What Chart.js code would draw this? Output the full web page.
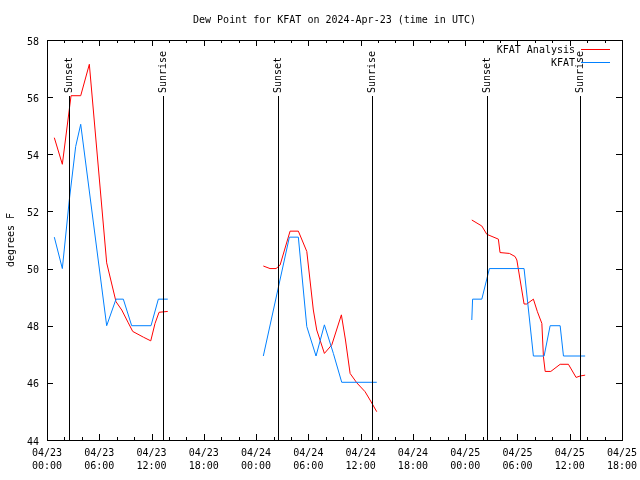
<!DOCTYPE html>
<html>
<head>
<meta charset="utf-8">
<script src="https://cdn.jsdelivr.net/npm/chart.js@4.4.1/dist/chart.umd.min.js"></script>
<style>
  body { margin: 0; background: #fff; }
  canvas { display: block; }
</style>
</head>
<body>
<canvas id="myChart" width="640" height="480"></canvas>
<script>
// hours since 04/23 00:00 UTC, null = gap between days
var analysisHours = [0.84, 1.76, 2.76, 3.87, 4.86, 6.85, 7.92, 8.58, 9.33, 9.84, 11.06, 11.91, 12.4, 12.86, 13.86, null,
    24.83, 25.6, 26.29, 26.75, 27.9, 28.85, 29.82, 30.57, 30.96, 31.84, 32.69, 33.79, 34.26, 34.79, 35.56, 36.51, 37.08, 37.85, null,
    48.76, 49.91, 50.48, 51.81, 52.0, 53.08, 53.73, 53.93, 54.76, 55.07, 55.83, 56.29, 56.8, 56.98, 57.18, 57.83, 58.9, 59.85, 60.73, 61.19, 61.77];
var analysisDew = [54.58, 53.65, 56.05, 56.05, 57.15, 50.2, 48.84, 48.55, 48.1, 47.8, 47.6, 47.47, 48.08, 48.47, 48.5, null,
    50.09, 50.0, 50.0, 50.12, 51.31, 51.31, 50.6, 48.55, 47.85, 47.03, 47.33, 48.38, 47.5, 46.33, 46.0, 45.69, 45.4, 44.99, null,
    51.7, 51.49, 51.2, 51.03, 50.56, 50.53, 50.42, 50.3, 48.76, 48.76, 48.93, 48.49, 48.08, 46.92, 46.4, 46.4, 46.65, 46.65, 46.19, 46.24, 46.27];

var obsHours = [0.84, 1.76, 2.56, 3.29, 3.87, 6.85, 7.92, 8.76, 9.72, 11.94, 12.78, 13.86, null,
    24.83, 27.82, 28.85, 29.82, 30.88, 31.84, 32.87, 33.83, 37.85, null,
    48.76, 48.85, 49.91, 50.78, 54.76, 55.83, 57.06, 57.75, 58.9, 59.28, 61.77];
var obsDew = [51.1, 50.0, 52.4, 54.27, 55.05, 48.0, 48.93, 48.93, 48.0, 48.0, 48.93, 48.93, null,
    46.94, 51.1, 51.1, 47.97, 46.94, 48.03, 47.03, 46.02, 46.02, null,
    48.2, 48.93, 48.93, 50.0, 50.0, 46.94, 46.94, 48.0, 48.0, 46.94, 46.94];

var sunsetHours = [2.56, 26.56, 50.55];
var sunriseHours = [13.28, 37.28, 61.23];

var tickDays = ["04/23", "04/23", "04/23", "04/23", "04/24", "04/24", "04/24", "04/24", "04/25", "04/25", "04/25", "04/25"];
var tickTimes = ["00:00", "06:00", "12:00", "18:00", "00:00", "06:00", "12:00", "18:00", "00:00", "06:00", "12:00", "18:00"];

var chartTitle = "Dew Point for KFAT on 2024-Apr-23 (time in UTC)";
var FONT = '"DejaVu Sans Mono", monospace';

function toPoints(xs, ys) {
    return xs.map(function (h, i) { return {x: h === null ? NaN : h, y: ys[i]}; });
}

var decor = {
    id: "decor",
    afterDraw: function (chart) {
        var ctx = chart.ctx, a = chart.chartArea, xs = chart.scales.x, ys = chart.scales.y;
        ctx.save();
        ctx.strokeStyle = "#000";
        ctx.lineWidth = 1;
        function seg(x1, y1, x2, y2) {
            ctx.beginPath(); ctx.moveTo(x1, y1); ctx.lineTo(x2, y2); ctx.stroke();
        }
        ctx.strokeRect(a.left + 0.5, a.top + 0.5, a.right - a.left, a.bottom - a.top);

        // inward ticks, minor every 2 h
        for (var h = xs.min; h <= xs.max; h += 2) {
            var px = Math.round(xs.getPixelForValue(h)) + 0.5;
            var len = h % 6 === 0 ? 6 : 3;
            seg(px, a.bottom, px, a.bottom - len);
            seg(px, a.top, px, a.top + len);
        }
        for (var v = ys.min; v <= ys.max; v += 2) {
            var py = Math.round(ys.getPixelForValue(v)) + 0.5;
            seg(a.left, py, a.left + 6, py);
            seg(a.right, py, a.right - 6, py);
        }

        // sunset / sunrise markers
        ctx.font = "10px " + FONT;
        ctx.fillStyle = "#000";
        function marker(h, txt) {
            var px = Math.round(xs.getPixelForValue(h)) + 0.5;
            seg(px, a.bottom, px, a.top + 56);
            ctx.save();
            ctx.translate(px, a.top + 53);
            ctx.rotate(-Math.PI / 2);
            ctx.textAlign = "left";
            ctx.textBaseline = "middle";
            ctx.fillText(txt, 0, 0);
            ctx.restore();
        }
        sunsetHours.forEach(function (h) { marker(h, "Sunset"); });
        sunriseHours.forEach(function (h) { marker(h, "Sunrise"); });

        // legend
        ctx.textAlign = "right";
        ctx.textBaseline = "middle";
        chart.data.datasets.forEach(function (ds, i) {
            var ly = a.top + 10 + i * 13;
            ctx.fillStyle = "#000";
            ctx.fillText(ds.label, a.right - 47, ly);
            ctx.strokeStyle = ds.borderColor;
            seg(a.right - 41, Math.round(ly) - 0.5, a.right - 12, Math.round(ly) - 0.5);
        });

        // title
        ctx.fillStyle = "#000";
        ctx.textAlign = "center";
        ctx.fillText(chartTitle, (a.left + a.right) / 2, 20);
        ctx.restore();
    }
};

Chart.defaults.color = "#000";
Chart.defaults.font.family = FONT;
Chart.defaults.font.size = 10;

new Chart("myChart", {
    type: "line",
    data: {
        datasets: [
            {label: "KFAT Analysis", data: toPoints(analysisHours, analysisDew), borderColor: "#ff0000", borderWidth: 1, order: 1},
            {label: "KFAT", data: toPoints(obsHours, obsDew), borderColor: "#0080ff", borderWidth: 1, order: 0}
        ]
    },
    options: {
        responsive: false,
        animation: false,
        devicePixelRatio: 1,
        spanGaps: false,
        elements: {point: {radius: 0}, line: {tension: 0, fill: false}},
        layout: {padding: {top: 40, right: 18, left: 0, bottom: 0}},
        plugins: {legend: {display: false}, title: {display: false}, tooltip: {enabled: false}},
        scales: {
            x: {
                type: "linear", min: 0, max: 66,
                grid: {display: false, drawTicks: false},
                border: {display: true, color: "#000", width: 1},
                ticks: {
                    stepSize: 6, autoSkip: false, maxRotation: 0, padding: 7,
                    font: {family: FONT, size: 10, lineHeight: 1.3},
                    callback: function (val) {
                        var i = Math.round(val / 6);
                        return [tickDays[i], tickTimes[i]];
                    }
                },
                afterFit: function (s) { s.height = 40; s.paddingLeft = 0; s.paddingRight = 0; }
            },
            y: {
                min: 44, max: 58,
                grid: {display: false, drawTicks: false},
                border: {display: true, color: "#000", width: 1},
                ticks: {stepSize: 2, padding: 8, labelOffset: 2, font: {family: FONT, size: 10}},
                title: {display: true, text: "degrees F", padding: {top: 5, bottom: 0}, font: {family: FONT, size: 10}},
                afterFit: function (s) { s.width = 47; s.paddingTop = 0; s.paddingBottom = 0; }
            }
        }
    },
    plugins: [decor]
});
</script>
</body>
</html>
